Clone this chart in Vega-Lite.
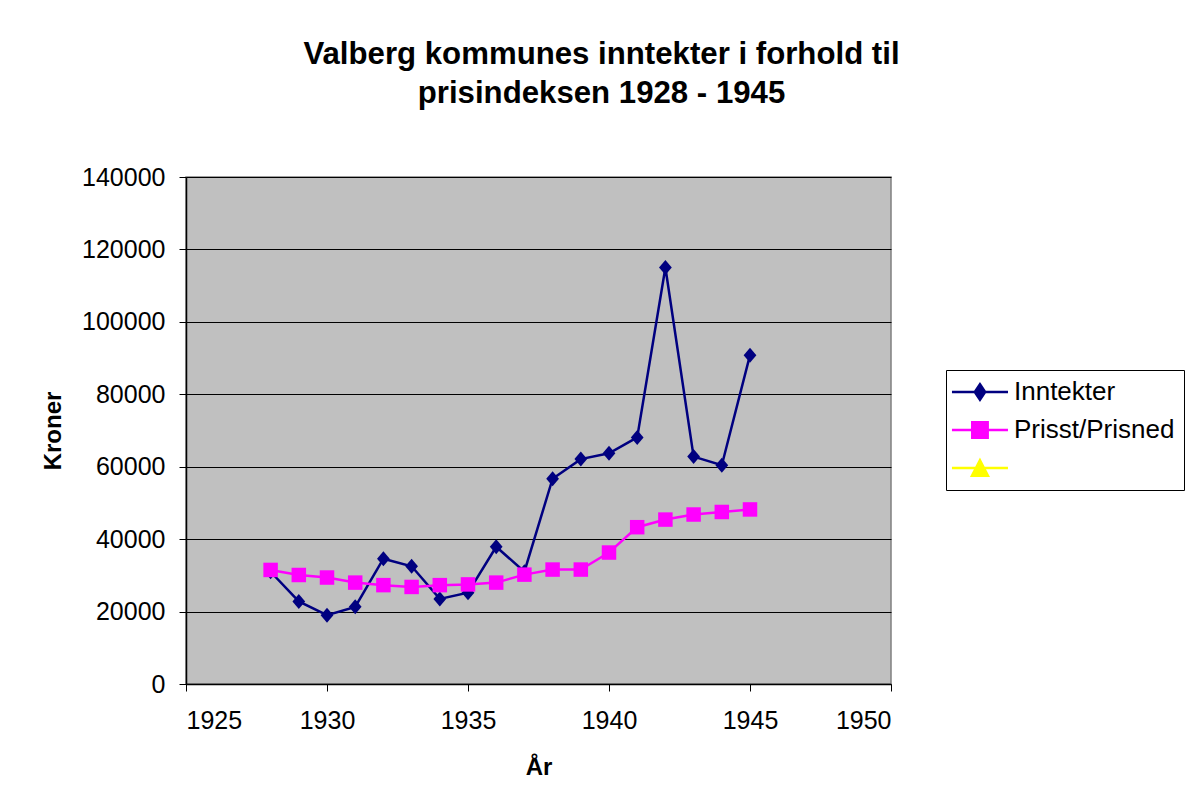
{
  "$schema": "https://vega.github.io/schema/vega-lite/v6.json",
  "autosize": "none",
  "width": 705,
  "height": 507,
  "padding": {"left": 186, "top": 177, "right": 297, "bottom": 123},
  "background": "white",
  "title": {
    "text": ["Valberg kommunes inntekter i forhold til", "prisindeksen 1928 - 1945"],
    "font": "Liberation Sans",
    "fontSize": 31.2,
    "fontWeight": "bold",
    "lineHeight": 39,
    "color": "#000000",
    "anchor": "middle",
    "frame": "group",
    "baseline": "bottom",
    "dx": 63,
    "offset": 24
  },
  "config": {
    "font": "Liberation Sans",
    "view": {"fill": "#C0C0C0", "stroke": "#808080", "strokeWidth": 1.5},
    "axis": {
      "labelFont": "Liberation Sans",
      "labelFontSize": 25,
      "labelColor": "#000000",
      "titleFont": "Liberation Sans",
      "titleFontSize": 24,
      "titleFontWeight": "bold",
      "titleColor": "#000000",
      "domainColor": "#000000",
      "domainWidth": 1.5,
      "tickColor": "#000000",
      "tickSize": 7,
      "tickWidth": 1
    },
    "legend": {
      "fillColor": "#FFFFFF",
      "strokeColor": "#000000",
      "padding": 9,
      "labelFont": "Liberation Sans",
      "labelFontSize": 26,
      "labelColor": "#000000",
      "labelLimit": 300,
      "labelOffset": 33,
      "rowPadding": 12,
      "symbolSize": 196,
      "symbolStrokeWidth": 2.5,
      "symbolOpacity": 1
    }
  },
  "data": {
    "values": [
      {"year": 1928, "series": "Inntekter", "value": 31000},
      {"year": 1929, "series": "Inntekter", "value": 22800},
      {"year": 1930, "series": "Inntekter", "value": 19000},
      {"year": 1931, "series": "Inntekter", "value": 21300},
      {"year": 1932, "series": "Inntekter", "value": 34600},
      {"year": 1933, "series": "Inntekter", "value": 32500},
      {"year": 1934, "series": "Inntekter", "value": 23500},
      {"year": 1935, "series": "Inntekter", "value": 25200},
      {"year": 1936, "series": "Inntekter", "value": 37900},
      {"year": 1937, "series": "Inntekter", "value": 31000},
      {"year": 1938, "series": "Inntekter", "value": 56700},
      {"year": 1939, "series": "Inntekter", "value": 62100},
      {"year": 1940, "series": "Inntekter", "value": 63700},
      {"year": 1941, "series": "Inntekter", "value": 68100},
      {"year": 1942, "series": "Inntekter", "value": 115000},
      {"year": 1943, "series": "Inntekter", "value": 62800},
      {"year": 1944, "series": "Inntekter", "value": 60400},
      {"year": 1945, "series": "Inntekter", "value": 90800},
      {"year": 1928, "series": "Prisst/Prisned", "value": 31500},
      {"year": 1929, "series": "Prisst/Prisned", "value": 30100},
      {"year": 1930, "series": "Prisst/Prisned", "value": 29400},
      {"year": 1931, "series": "Prisst/Prisned", "value": 28000},
      {"year": 1932, "series": "Prisst/Prisned", "value": 27300},
      {"year": 1933, "series": "Prisst/Prisned", "value": 26800},
      {"year": 1934, "series": "Prisst/Prisned", "value": 27300},
      {"year": 1935, "series": "Prisst/Prisned", "value": 27500},
      {"year": 1936, "series": "Prisst/Prisned", "value": 28000},
      {"year": 1937, "series": "Prisst/Prisned", "value": 30200},
      {"year": 1938, "series": "Prisst/Prisned", "value": 31600},
      {"year": 1939, "series": "Prisst/Prisned", "value": 31600},
      {"year": 1940, "series": "Prisst/Prisned", "value": 36300},
      {"year": 1941, "series": "Prisst/Prisned", "value": 43300},
      {"year": 1942, "series": "Prisst/Prisned", "value": 45400},
      {"year": 1943, "series": "Prisst/Prisned", "value": 46800},
      {"year": 1944, "series": "Prisst/Prisned", "value": 47500},
      {"year": 1945, "series": "Prisst/Prisned", "value": 48200}
    ]
  },
  "encoding": {
    "x": {
      "field": "year",
      "type": "quantitative",
      "scale": {"domain": [1925, 1950], "nice": false, "zero": false},
      "axis": {
        "title": "År",
        "values": [1925, 1930, 1935, 1940, 1945, 1950],
        "format": "d",
        "grid": false,
        "labelPadding": 17,
        "titlePadding": 22
      }
    },
    "y": {
      "field": "value",
      "type": "quantitative",
      "scale": {"domain": [0, 140000], "nice": false},
      "axis": {
        "title": "Kroner",
        "values": [0, 20000, 40000, 60000, 80000, 100000, 120000, 140000],
        "format": "d",
        "grid": true,
        "gridColor": "#000000",
        "gridWidth": 1,
        "labelPadding": 14,
        "titlePadding": 16
      }
    }
  },
  "layer": [
    {
      "mark": {"type": "line", "strokeWidth": 2.5},
      "encoding": {
        "stroke": {
          "field": "series",
          "type": "nominal",
          "scale": {
            "domain": ["Inntekter", "Prisst/Prisned", " "],
            "range": ["#000080", "#FF00FF", "#FFFF00"]
          }
        }
      }
    },
    {
      "transform": [{"filter": "datum.series === 'Inntekter'"}],
      "mark": {"type": "point", "filled": true, "opacity": 1, "size": 225, "shape": "M0,-1L0.85,0L0,1L-0.85,0Z", "color": "#000080"}
    },
    {
      "transform": [{"filter": "datum.series === 'Prisst/Prisned'"}],
      "mark": {"type": "point", "filled": true, "opacity": 1, "size": 210, "shape": "square", "color": "#FF00FF"}
    },
    {
      "mark": {"type": "point", "filled": true, "opacity": 0, "size": 196},
      "encoding": {
        "fill": {
          "field": "series",
          "type": "nominal",
          "scale": {
            "domain": ["Inntekter", "Prisst/Prisned", " "],
            "range": ["#000080", "#FF00FF", "#FFFF00"]
          }
        },
        "stroke": {"field": "series", "type": "nominal"},
        "shape": {
          "field": "series",
          "type": "nominal",
          "scale": {
            "domain": ["Inntekter", "Prisst/Prisned", " "],
            "range": [
              "M-2.29,0H5.71M1.71,-1.1L2.45,0L1.71,1.1L0.97,0Z",
              "M-2.29,0H5.71M0.61,-1.1H2.81V1.1H0.61Z",
              "M-2.29,0H5.71M1.71,-1.1L2.85,1.1H0.57Z"
            ]
          },
          "legend": {
            "title": null,
            "orient": "none",
            "legendX": 760,
            "legendY": 193,
            "direction": "vertical"
          }
        }
      }
    }
  ]
}
